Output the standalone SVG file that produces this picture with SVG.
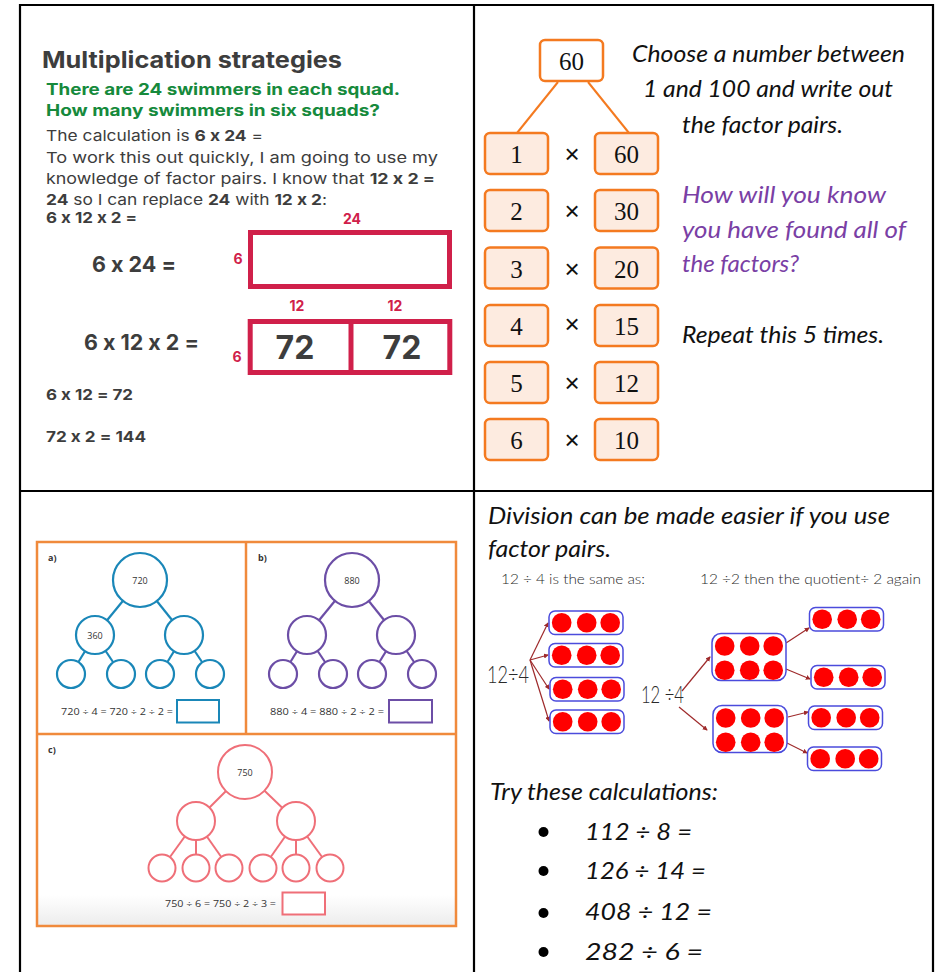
<svg xmlns="http://www.w3.org/2000/svg" xmlns:xlink="http://www.w3.org/1999/xlink" width="935" height="972" viewBox="0 0 935 972">
<style>
.mont{font-family:Inter,"Open Sans","Liberation Sans",sans-serif;fill:#3d3d3d;font-feature-settings:"calt" 0}
.b{font-weight:700}
.green{fill:#168a3c;font-weight:700}
.red{fill:#d0204a;font-weight:700;font-size:14px;text-anchor:middle;font-family:Inter,"Open Sans","Liberation Sans",sans-serif}
.hand{font-family:Lato,"Open Sans","Liberation Sans",sans-serif;font-style:italic;fill:#111}
.purple{fill:#7a3fa5}
.serif{font-family:"Liberation Serif","DejaVu Serif",serif;font-size:25px;text-anchor:middle;fill:#111}
.times{font-family:"Liberation Sans",sans-serif;font-size:26px;text-anchor:middle;fill:#111}
.fbox{fill:#fdebe0;stroke:#f47a20;stroke-width:2.5}
.bar{fill:#fff;stroke:#d0204a;stroke-width:5}
.grid{stroke:#000;stroke-width:2.2;fill:none}
.ws{font-family:"Open Sans","Liberation Sans",sans-serif;font-size:9px;fill:#333}
.lbl{font-family:"Open Sans","Liberation Sans",sans-serif;font-size:9px;font-weight:700;fill:#333}
.blue{stroke:#1a87b8;stroke-width:2.2;fill:#fff}
.purp{stroke:#6c4ea6;stroke-width:2.2;fill:#fff}
.pink{stroke:#ef6f78;stroke-width:2;fill:#fff}
.thin{font-family:Lato,"Open Sans","Liberation Sans",sans-serif;fill:#2a2a2a;font-weight:300}
.arr{stroke:#9e2a2b;stroke-width:1.2;fill:none;marker-end:url(#ah)}
.dbox{fill:#fff;stroke:#4b4bdc;stroke-width:1.5}
.dot{fill:#f00}
</style>
<defs>
<marker id="ah" viewBox="0 0 6 6" refX="5" refY="3" markerWidth="5" markerHeight="5" orient="auto" markerUnits="userSpaceOnUse">
<path d="M0,0 L6,3 L0,6 z" fill="#9e2a2b"/>
</marker>
<g id="row3">
<rect class="dbox" x="0" y="0" width="74" height="23.5" rx="6"/>
<circle class="dot" cx="12.7" cy="11.75" r="9.8"/>
<circle class="dot" cx="37.7" cy="11.75" r="9.8"/>
<circle class="dot" cx="61.2" cy="11.75" r="9.8"/>
</g>
<g id="row6">
<rect class="dbox" x="0" y="0" width="74" height="47" rx="9"/>
<circle class="dot" cx="12.7" cy="12.5" r="9.8"/>
<circle class="dot" cx="37.7" cy="12.5" r="9.8"/>
<circle class="dot" cx="61.2" cy="12.5" r="9.8"/>
<circle class="dot" cx="12.7" cy="36.7" r="9.8"/>
<circle class="dot" cx="37.7" cy="36.7" r="9.8"/>
<circle class="dot" cx="61.2" cy="36.7" r="9.8"/>
</g>
<linearGradient id="fade" x1="0" y1="0" x2="0" y2="1">
<stop offset="0" stop-color="#fff"/>
<stop offset="1" stop-color="#ececec"/>
</linearGradient>
</defs>
<rect width="935" height="972" fill="#fff"/>

<!-- table grid -->
<g id="grid">
<line class="grid" x1="19" y1="5" x2="934" y2="5"/>
<line class="grid" x1="20" y1="4" x2="20" y2="972"/>
<line class="grid" x1="933" y1="4" x2="933" y2="972"/>
<line class="grid" x1="474" y1="4" x2="474" y2="972"/>
<line class="grid" x1="19" y1="491" x2="934" y2="491"/>
</g>

<!-- top-left: multiplication strategies -->
<g id="multiplication-text">
<text class="mont b" x="42" y="68" font-size="23" textLength="300" lengthAdjust="spacingAndGlyphs">Multiplication strategies</text>
<text class="mont green" x="46" y="95" font-size="16" textLength="354" lengthAdjust="spacingAndGlyphs">There are 24 swimmers in each squad.</text>
<text class="mont green" x="46" y="116" font-size="16" textLength="334" lengthAdjust="spacingAndGlyphs">How many swimmers in six squads?</text>
<text class="mont" x="46" y="141" font-size="15" textLength="217" lengthAdjust="spacingAndGlyphs">The calculation is <tspan class="b">6 x 24</tspan> =</text>
<text class="mont" x="46" y="163" font-size="15" textLength="392" lengthAdjust="spacingAndGlyphs">To work this out quickly, I am going to use my</text>
<text class="mont" x="46" y="184" font-size="15" textLength="389" lengthAdjust="spacingAndGlyphs">knowledge of factor pairs. I know that <tspan class="b">12 x 2 =</tspan></text>
<text class="mont" x="46" y="205" font-size="15" textLength="281" lengthAdjust="spacingAndGlyphs"><tspan class="b">24</tspan> so I can replace <tspan class="b">24</tspan> with <tspan class="b">12 x 2</tspan>:</text>
<text class="mont b" x="46" y="223" font-size="15" textLength="91" lengthAdjust="spacingAndGlyphs">6 x 12 x 2 =</text>
</g>

<g id="bar-model-1">
<text class="red" x="352" y="224">24</text>
<text class="red" x="238" y="264">6</text>
<rect class="bar" x="250.5" y="232.5" width="199" height="54"/>
<text class="mont b" x="92" y="272" font-size="22" textLength="84" lengthAdjust="spacingAndGlyphs">6 x 24 =</text>
</g>

<g id="bar-model-2">
<text class="red" x="297" y="311">12</text>
<text class="red" x="395" y="311">12</text>
<text class="red" x="237" y="362">6</text>
<rect class="bar" x="250.2" y="321.5" width="199.6" height="51"/>
<line x1="351" y1="321" x2="351" y2="373" stroke="#d0204a" stroke-width="5"/>
<text class="mont b" x="295" y="359" font-size="32" text-anchor="middle">72</text>
<text class="mont b" x="402" y="359" font-size="32" text-anchor="middle">72</text>
<text class="mont b" x="84" y="350" font-size="21" textLength="115" lengthAdjust="spacingAndGlyphs">6 x 12 x 2 =</text>
</g>

<g id="working">
<text class="mont b" x="46" y="400" font-size="15" textLength="87" lengthAdjust="spacingAndGlyphs">6 x 12 = 72</text>
<text class="mont b" x="46" y="442" font-size="15" textLength="100" lengthAdjust="spacingAndGlyphs">72 x 2 = 144</text>
</g>

<!-- top-right: factor pairs -->
<g id="factor-connectors">
<line x1="558" y1="82" x2="517" y2="133" stroke="#f47a20" stroke-width="2"/>
<line x1="588" y1="82" x2="629" y2="133" stroke="#f47a20" stroke-width="2"/>
</g>
<g id="node-60">
<rect x="540" y="40" width="63" height="41" rx="5" fill="#fff" stroke="#f47a20" stroke-width="2.5"/>
<text class="serif" x="571.5" y="70">60</text>
</g>
<g id="pair-1">
<rect class="fbox" x="485" y="133" width="63" height="41" rx="5"/>
<rect class="fbox" x="595" y="133" width="63" height="41" rx="5"/>
<text class="serif" x="516.5" y="163">1</text>
<text class="times" x="572" y="163">×</text>
<text class="serif" x="626.5" y="163">60</text>
</g>
<g id="pair-2">
<rect class="fbox" x="485" y="190" width="63" height="41" rx="5"/>
<rect class="fbox" x="595" y="190" width="63" height="41" rx="5"/>
<text class="serif" x="516.5" y="220">2</text>
<text class="times" x="572" y="220">×</text>
<text class="serif" x="626.5" y="220">30</text>
</g>
<g id="pair-3">
<rect class="fbox" x="485" y="247.5" width="63" height="41" rx="5"/>
<rect class="fbox" x="595" y="247.5" width="63" height="41" rx="5"/>
<text class="serif" x="516.5" y="277.5">3</text>
<text class="times" x="572" y="277.5">×</text>
<text class="serif" x="626.5" y="277.5">20</text>
</g>
<g id="pair-4">
<rect class="fbox" x="485" y="305" width="63" height="41" rx="5"/>
<rect class="fbox" x="595" y="305" width="63" height="41" rx="5"/>
<text class="serif" x="516.5" y="335">4</text>
<text class="times" x="572" y="333">×</text>
<text class="serif" x="626.5" y="335">15</text>
</g>
<g id="pair-5">
<rect class="fbox" x="485" y="362" width="63" height="41" rx="5"/>
<rect class="fbox" x="595" y="362" width="63" height="41" rx="5"/>
<text class="serif" x="516.5" y="392">5</text>
<text class="times" x="572" y="392">×</text>
<text class="serif" x="626.5" y="392">12</text>
</g>
<g id="pair-6">
<rect class="fbox" x="485" y="419" width="63" height="41" rx="5"/>
<rect class="fbox" x="595" y="419" width="63" height="41" rx="5"/>
<text class="serif" x="516.5" y="449">6</text>
<text class="times" x="572" y="449">×</text>
<text class="serif" x="626.5" y="449">10</text>
</g>
<g id="factor-instructions">
<text class="hand" x="632" y="62" font-size="23" textLength="273" lengthAdjust="spacingAndGlyphs">Choose a number between</text>
<text class="hand" x="643" y="97" font-size="23" textLength="250" lengthAdjust="spacingAndGlyphs">1 and 100 and write out</text>
<text class="hand" x="682" y="133" font-size="23" textLength="161" lengthAdjust="spacingAndGlyphs">the factor pairs.</text>
<text class="hand purple" x="682" y="203" font-size="23" textLength="204" lengthAdjust="spacingAndGlyphs">How will you know</text>
<text class="hand purple" x="682" y="238" font-size="23" textLength="224" lengthAdjust="spacingAndGlyphs">you have found all of</text>
<text class="hand purple" x="682" y="272" font-size="23" textLength="117" lengthAdjust="spacingAndGlyphs">the factors?</text>
<text class="hand" x="682" y="343" font-size="23" textLength="202" lengthAdjust="spacingAndGlyphs">Repeat this 5 times.</text>
</g>

<!-- bottom-left: worksheet -->
<g id="worksheet-frame">
<rect x="37" y="895" width="419" height="31" fill="url(#fade)"/>
<rect x="37" y="542" width="419" height="384" fill="none" stroke="#f08a3c" stroke-width="2.5"/>
<line x1="246" y1="542" x2="246" y2="734" stroke="#f08a3c" stroke-width="2.5"/>
<line x1="37" y1="734" x2="456" y2="734" stroke="#f08a3c" stroke-width="2.5"/>
</g>
<g id="tree-a">
<text class="lbl" x="48" y="561">a)</text>
<g stroke="#1a87b8" stroke-width="2.2">
<line x1="140" y1="580" x2="95" y2="635"/><line x1="140" y1="580" x2="184" y2="635"/>
<line x1="95" y1="635" x2="71" y2="674"/><line x1="95" y1="635" x2="121" y2="674"/>
<line x1="184" y1="635" x2="160" y2="674"/><line x1="184" y1="635" x2="210" y2="674"/>
</g>
<circle class="blue" cx="140" cy="580" r="27"/>
<circle class="blue" cx="95" cy="635" r="19"/>
<circle class="blue" cx="184" cy="635" r="19"/>
<circle class="blue" cx="71" cy="674" r="14"/>
<circle class="blue" cx="121" cy="674" r="14"/>
<circle class="blue" cx="160" cy="674" r="14"/>
<circle class="blue" cx="210" cy="674" r="14"/>
<text class="ws" x="140" y="583.5" font-size="10" text-anchor="middle">720</text>
<text class="ws" x="95" y="638.5" font-size="10" text-anchor="middle">360</text>
<text class="ws" x="61" y="715" textLength="112" lengthAdjust="spacingAndGlyphs">720 ÷ 4 = 720 ÷ 2 ÷ 2 =</text>
<rect x="177" y="700" width="42" height="22.5" fill="#fff" stroke="#1a87b8" stroke-width="2"/>
</g>
<g id="tree-b">
<text class="lbl" x="258" y="561">b)</text>
<g stroke="#6c4ea6" stroke-width="2.2">
<line x1="352" y1="580" x2="307" y2="635"/><line x1="352" y1="580" x2="396" y2="635"/>
<line x1="307" y1="635" x2="283" y2="674"/><line x1="307" y1="635" x2="333" y2="674"/>
<line x1="396" y1="635" x2="372" y2="674"/><line x1="396" y1="635" x2="422" y2="674"/>
</g>
<circle class="purp" cx="352" cy="580" r="27"/>
<circle class="purp" cx="307" cy="635" r="19"/>
<circle class="purp" cx="396" cy="635" r="19"/>
<circle class="purp" cx="283" cy="674" r="14"/>
<circle class="purp" cx="333" cy="674" r="14"/>
<circle class="purp" cx="372" cy="674" r="14"/>
<circle class="purp" cx="422" cy="674" r="14"/>
<text class="ws" x="352" y="583.5" font-size="10" text-anchor="middle">880</text>
<text class="ws" x="270" y="715" textLength="114" lengthAdjust="spacingAndGlyphs">880 ÷ 4 = 880 ÷ 2 ÷ 2 =</text>
<rect x="389" y="700" width="43" height="22.5" fill="#fff" stroke="#6c4ea6" stroke-width="2"/>
</g>
<g id="tree-c">
<text class="lbl" x="48" y="753">c)</text>
<g stroke="#ef6f78" stroke-width="2">
<line x1="245" y1="772" x2="196" y2="821"/><line x1="245" y1="772" x2="296" y2="821"/>
<line x1="196" y1="821" x2="162" y2="868"/><line x1="196" y1="821" x2="196" y2="868"/><line x1="196" y1="821" x2="229" y2="868"/>
<line x1="296" y1="821" x2="263" y2="868"/><line x1="296" y1="821" x2="296" y2="868"/><line x1="296" y1="821" x2="330" y2="868"/>
</g>
<circle class="pink" cx="245" cy="772" r="27"/>
<circle class="pink" cx="196" cy="821" r="19"/>
<circle class="pink" cx="296" cy="821" r="19"/>
<circle class="pink" cx="162" cy="868" r="13.5"/>
<circle class="pink" cx="196" cy="868" r="13.5"/>
<circle class="pink" cx="229" cy="868" r="13.5"/>
<circle class="pink" cx="263" cy="868" r="13.5"/>
<circle class="pink" cx="296" cy="868" r="13.5"/>
<circle class="pink" cx="330" cy="868" r="13.5"/>
<text class="ws" x="245" y="776" font-size="10" text-anchor="middle">750</text>
<text class="ws" x="165" y="907" textLength="111" lengthAdjust="spacingAndGlyphs">750 ÷ 6 = 750 ÷ 2 ÷ 3 =</text>
<rect x="282.5" y="892.5" width="42.5" height="22" fill="#fff" stroke="#ef6f78" stroke-width="2"/>
</g>

<!-- bottom-right: division -->
<g id="division-text">
<text class="hand" x="488" y="524" font-size="23" textLength="402" lengthAdjust="spacingAndGlyphs">Division can be made easier if you use</text>
<text class="hand" x="488" y="557" font-size="23" textLength="123" lengthAdjust="spacingAndGlyphs">factor pairs.</text>
<text class="thin" x="501" y="584" font-size="13" textLength="144" lengthAdjust="spacingAndGlyphs">12 ÷ 4  is the same as:</text>
<text class="thin" x="700" y="584" font-size="13" textLength="221" lengthAdjust="spacingAndGlyphs">12  ÷2 then the quotient÷ 2 again</text>
</g>
<g id="division-connectors">
<line class="arr" x1="530" y1="660" x2="548" y2="623"/>
<line class="arr" x1="530" y1="660" x2="548" y2="655"/>
<line class="arr" x1="530" y1="660" x2="549" y2="689"/>
<line class="arr" x1="530" y1="660" x2="549" y2="721"/>
<line class="arr" x1="682" y1="691" x2="710" y2="657"/>
<line class="arr" x1="679" y1="707" x2="707" y2="730"/>
<line class="arr" x1="786" y1="643" x2="809" y2="628"/>
<line class="arr" x1="786" y1="669" x2="810" y2="679"/>
<line class="arr" x1="788" y1="717" x2="808" y2="712"/>
<line class="arr" x1="787" y1="743" x2="807" y2="753"/>
</g>
<g id="division-left">
<text class="thin" x="487" y="683" font-size="24" textLength="42" lengthAdjust="spacingAndGlyphs">12÷4</text>
<use xlink:href="#row3" href="#row3" x="549" y="611"/>
<use xlink:href="#row3" href="#row3" x="549" y="643.5"/>
<use xlink:href="#row3" href="#row3" x="550" y="677.5"/>
<use xlink:href="#row3" href="#row3" x="550" y="710"/>
</g>
<g id="division-right">
<text class="thin" x="641" y="703" font-size="24" textLength="43" lengthAdjust="spacingAndGlyphs">12 ÷4</text>
<use xlink:href="#row6" href="#row6" x="712" y="633.5"/>
<use xlink:href="#row6" href="#row6" x="713" y="705.5"/>
<use xlink:href="#row3" href="#row3" x="809.5" y="607.5"/>
<use xlink:href="#row3" href="#row3" x="811" y="665.5"/>
<use xlink:href="#row3" href="#row3" x="808.5" y="706"/>
<use xlink:href="#row3" href="#row3" x="807.5" y="747"/>
</g>
<g id="try-list">
<text class="hand" x="490" y="800" font-size="23" textLength="228" lengthAdjust="spacingAndGlyphs">Try these calculations:</text>
<circle cx="543.5" cy="832" r="5" fill="#000"/>
<circle cx="543.5" cy="871" r="5" fill="#000"/>
<circle cx="543.5" cy="913" r="5" fill="#000"/>
<circle cx="543.5" cy="952" r="5" fill="#000"/>
<text class="hand" x="585" y="840" font-size="23" textLength="107" lengthAdjust="spacingAndGlyphs">112 ÷ 8 =</text>
<text class="hand" x="585" y="879" font-size="23" textLength="121" lengthAdjust="spacingAndGlyphs">126 ÷ 14 =</text>
<text class="hand" x="585" y="920" font-size="23" textLength="127" lengthAdjust="spacingAndGlyphs">408 ÷ 12 =</text>
<text class="hand" x="585" y="960" font-size="23" textLength="118" lengthAdjust="spacingAndGlyphs">282 ÷ 6 =</text>
</g>
</svg>
